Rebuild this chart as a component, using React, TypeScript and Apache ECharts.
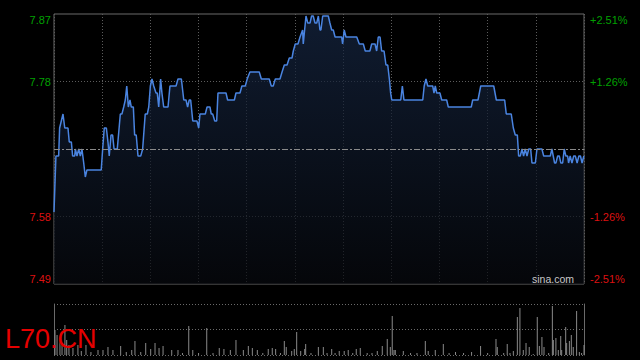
import React, { useEffect, useRef } from 'react';
import * as echarts from 'echarts';

const PREV_CLOSE = 7.68;
const PCT_STEP = 1.2555;
const SESSION_MINUTES = 330;

// price line: minute of session, last price
const minutes = [
  0, 1.2, 2.9, 3.5, 5.6, 6.7, 8.7, 9.5, 10.8, 11.6, 12.9, 13.3, 14.3, 15.4, 16.4, 17.4, 18.5, 19.5, 20.5, 29.4,
  30.3, 31.3, 32.6, 33.6, 34.4, 35.5, 36.5, 37.4, 39.4, 41.3, 42.3, 43.4, 44.4, 45.3, 46.3, 47.3, 48.1, 49.4, 50.2, 51.2,
  52.3, 54.0, 55.2, 56.8, 58.1, 59.0, 60.0, 61.0, 62.1, 63.5, 64.3, 65.2, 66.4, 67.2, 68.3, 71.0, 72.2, 76.0, 77.2, 79.3,
  80.8, 82.2, 83.2, 84.2, 85.1, 86.4, 89.0, 90.1, 90.9, 94.2, 95.3, 97.1, 97.9, 98.8, 100.1, 101.3, 102.1, 107.1, 108.1, 112.3,
  113.3, 115.8, 117.0, 119.1, 120.3, 122.0, 127.8, 129.1, 134.0, 135.3, 136.5, 137.8, 140.7, 142.0, 143.4, 145.1, 146.5, 148.2, 149.0, 150.2,
  151.9, 153.2, 154.8, 155.2, 156.9, 158.0, 159.4, 160.4, 161.4, 162.5, 163.6, 164.6, 165.6, 166.2, 167.3, 170.8, 171.8, 172.9, 173.9, 175.0,
  179.1, 179.7, 180.7, 181.8, 188.5, 190.1, 192.6, 193.8, 196.7, 197.8, 199.9, 200.9, 201.9, 203.0, 204.0, 205.5, 206.7, 207.8, 208.8, 209.6,
  210.3, 215.9, 216.9, 217.9, 229.6, 230.5, 231.6, 232.7, 235.8, 236.6, 237.4, 238.3, 240.3, 241.4, 244.5, 245.5, 259.8, 260.7, 264.0, 265.7,
  273.8, 275.4, 280.6, 281.6, 284.7, 286.0, 287.2, 288.5, 289.3, 290.3, 291.4, 292.4, 293.4, 294.5, 295.6, 296.8, 297.6, 299.7, 300.7, 303.8,
  304.9, 309.0, 310.0, 311.7, 312.5, 313.6, 314.6, 315.6, 316.7, 317.7, 318.7, 319.8, 320.4, 321.4, 322.5, 323.6, 324.6, 325.7, 326.8, 327.8,
  328.8, 329.9,
];
const prices = [
  7.59, 7.67, 7.67, 7.71, 7.73, 7.71, 7.71, 7.69, 7.69, 7.67, 7.67, 7.68, 7.67, 7.68, 7.67, 7.68, 7.66, 7.64, 7.65, 7.65,
  7.68, 7.71, 7.71, 7.69, 7.67, 7.70, 7.70, 7.68, 7.68, 7.73, 7.73, 7.74, 7.75, 7.77, 7.74, 7.75, 7.74, 7.74, 7.70, 7.70,
  7.67, 7.67, 7.68, 7.73, 7.73, 7.74, 7.77, 7.78, 7.77, 7.76, 7.76, 7.74, 7.78, 7.76, 7.74, 7.74, 7.77, 7.77, 7.78, 7.78,
  7.75, 7.75, 7.74, 7.75, 7.75, 7.72, 7.72, 7.71, 7.73, 7.73, 7.74, 7.74, 7.73, 7.73, 7.72, 7.72, 7.76, 7.76, 7.75, 7.75,
  7.76, 7.76, 7.77, 7.77, 7.78, 7.79, 7.79, 7.78, 7.78, 7.77, 7.77, 7.78, 7.78, 7.79, 7.80, 7.80, 7.81, 7.81, 7.82, 7.83,
  7.83, 7.84, 7.85, 7.83, 7.87, 7.86, 7.86, 7.87, 7.87, 7.86, 7.86, 7.87, 7.85, 7.85, 7.87, 7.87, 7.86, 7.85, 7.85, 7.84,
  7.84, 7.83, 7.85, 7.84, 7.84, 7.83, 7.83, 7.82, 7.82, 7.83, 7.83, 7.82, 7.84, 7.84, 7.82, 7.82, 7.80, 7.80, 7.78, 7.76,
  7.75, 7.75, 7.77, 7.75, 7.75, 7.77, 7.78, 7.77, 7.77, 7.76, 7.77, 7.76, 7.76, 7.75, 7.75, 7.74, 7.74, 7.75, 7.75, 7.77,
  7.77, 7.75, 7.75, 7.73, 7.73, 7.71, 7.70, 7.70, 7.67, 7.67, 7.68, 7.67, 7.68, 7.67, 7.68, 7.68, 7.66, 7.66, 7.68, 7.68,
  7.67, 7.67, 7.68, 7.66, 7.66, 7.67, 7.67, 7.66, 7.66, 7.68, 7.67, 7.67, 7.66, 7.67, 7.66, 7.67, 7.67, 7.66, 7.67, 7.67,
  7.66, 7.67,
];

// volume bars: minute of session, volume (thousand shares)
const volMinutes = [
  0.6, 1.9, 3.7, 5, 6.8, 7.9, 9.3, 11.8, 14.9, 17, 19.9, 23, 27.4, 30.5, 33.6, 36.7, 41.5, 45, 48.4, 50.4,
  54, 57.1, 60.2, 62.9, 65.4, 67.9, 73.3, 77.2, 80, 83.9, 86.4, 90, 95.1, 99, 102.9, 105.8, 109.8, 113.3, 117.9, 121,
  123.5, 126.6, 130, 133.4, 135.9, 138, 141, 143.4, 144.6, 148, 149.6, 151.1, 153.6, 156.1, 156.7, 160, 164.6, 167.7, 170, 172.9,
  175, 177.6, 180.7, 183.2, 186, 188.2, 190.7, 195, 198, 201.3, 204.4, 207.5, 209.4, 210.6, 211.7, 212.5, 217.5, 222, 226, 231.2,
  233, 237.4, 242.4, 246, 250, 255, 260, 265.6, 270, 275.2, 276, 280, 282.2, 283.9, 286, 288.5, 290.1, 292.2, 293.9, 295.9,
  298.4, 300.9, 302.2, 303.8, 305.1, 308, 310.3, 310.9, 312.5, 314, 315.5, 316.1, 318.6, 319.2, 320.9, 322.1, 323.3, 325.4, 327.1, 328.5,
  330,
];
const volumes = [
  250, 200, 180, 120, 300, 150, 100, 70, 100, 40, 100, 30, 50, 50, 80, 50, 90, 30, 50, 140,
  30, 120, 60, 120, 70, 90, 50, 50, 20, 290, 50, 20, 270, 20, 70, 60, 50, 150, 50, 90,
  70, 50, 20, 60, 70, 60, 20, 140, 80, 40, 60, 230, 40, 60, 110, 20, 80, 80, 20, 60,
  20, 40, 40, 50, 20, 60, 70, 20, 20, 40, 90, 160, 80, 390, 50, 50, 40, 20, 20, 140,
  40, 50, 110, 20, 30, 20, 30, 90, 20, 160, 80, 20, 110, 20, 40, 380, 470, 50, 120, 80,
  10, 380, 90, 180, 80, 20, 490, 150, 170, 50, 190, 50, 280, 120, 140, 200, 80, 440, 30, 20,
  100,
];
const VOL_MAX = 510;

const UP = '#00a000';
const DOWN = '#dd1111';
const FONT = '"Liberation Sans", Arial, sans-serif';

export default function App() {
  const ref = useRef<HTMLDivElement>(null);
  useEffect(() => {
    const chart = echarts.init(ref.current!, null, { renderer: 'svg' });
    const pct = (p: number) => (p / PREV_CLOSE - 1) * 100;
    const lineData = minutes.map((m, i) => [m, pct(prices[i])]);
    const volData = volMinutes.map((m, i) => [m, volumes[i]]);
    const isZero = (v: number) => Math.abs(v) < 1e-9;
    const labelColor = (v: any) => (Number(v) > 0 ? UP : DOWN);

    const option: any = {
      animation: false,
      backgroundColor: '#000',
      grid: [
        { left: 54, top: 14, width: 530, height: 270, show: true, borderColor: '#6a6a6a', borderWidth: 1, backgroundColor: 'transparent' },
        { left: 54, top: 304, width: 530, height: 51, show: false },
      ],
      xAxis: [
        {
          type: 'value', gridIndex: 0, min: 0, max: SESSION_MINUTES, interval: 30,
          axisLine: { show: false }, axisTick: { show: false }, axisLabel: { show: false },
          splitLine: { show: true, lineStyle: { color: '#5c5c5c', type: [1, 2], width: 1 } },
        },
        {
          type: 'value', gridIndex: 1, min: 0, max: SESSION_MINUTES, interval: 30,
          axisLine: { show: false }, axisTick: { show: false }, axisLabel: { show: false },
          splitLine: { show: false },
        },
      ],
      yAxis: [
        {
          type: 'value', gridIndex: 0, position: 'left',
          min: -2 * PCT_STEP, max: 2 * PCT_STEP, interval: PCT_STEP,
          axisLine: { show: false }, axisTick: { show: false },
          axisLabel: {
            margin: 3, fontSize: 11, fontFamily: FONT,
            color: labelColor,
            verticalAlignMinLabel: 'bottom', verticalAlignMaxLabel: 'top',
            formatter: (v: number) => (isZero(v) ? '' : (PREV_CLOSE * (1 + v / 100)).toFixed(2)),
          },
          splitLine: {
            show: true,
            lineStyle: {
              color: ['rgba(0,0,0,0)', '#5c5c5c', 'rgba(0,0,0,0)', '#5c5c5c', 'rgba(0,0,0,0)'],
              type: [1, 2], width: 1,
            },
          },
        },
        {
          type: 'value', gridIndex: 0, position: 'right',
          min: -2 * PCT_STEP, max: 2 * PCT_STEP, interval: PCT_STEP,
          axisLine: { show: false }, axisTick: { show: false }, splitLine: { show: false },
          axisLabel: {
            margin: 6, fontSize: 11, fontFamily: FONT,
            color: labelColor,
            verticalAlignMinLabel: 'bottom', verticalAlignMaxLabel: 'top',
            formatter: (v: number) => (isZero(v) ? '' : (v > 0 ? '+' : '') + v.toFixed(2) + '%'),
          },
        },
        {
          type: 'value', gridIndex: 1, position: 'left', min: 0, max: VOL_MAX, interval: VOL_MAX / 2,
          axisLine: { show: true, lineStyle: { color: '#6a6a6a', width: 1 } },
          axisTick: { show: false }, axisLabel: { show: false },
          splitLine: { show: true, lineStyle: { color: '#6a6a6a', type: [1, 2], width: 1 } },
        },
        {
          type: 'value', gridIndex: 1, position: 'right', min: 0, max: VOL_MAX, interval: VOL_MAX / 2,
          axisLine: { show: true, lineStyle: { color: '#6a6a6a', width: 1 } },
          axisTick: { show: false }, axisLabel: { show: false }, splitLine: { show: false },
        },
      ],
      series: [
        {
          type: 'line', xAxisIndex: 0, yAxisIndex: 0, data: lineData,
          showSymbol: false, symbol: 'none',
          lineStyle: { color: '#4a84e0', width: 1.5 },
          areaStyle: {
            origin: 'start',
            color: new echarts.graphic.LinearGradient(0, 0, 0, 1, [
              { offset: 0, color: '#162744' },
              { offset: 1, color: '#07090e' },
            ]),
          },
          markLine: {
            silent: true, symbol: 'none', animation: false,
            label: { show: false },
            lineStyle: { color: '#8a8a8a', type: [6, 2, 2, 2], width: 1 },
            data: [{ yAxis: 0 }],
          },
          z: 3,
        },
        {
          type: 'bar', xAxisIndex: 1, yAxisIndex: 2, data: volData,
          barWidth: 1, itemStyle: { color: '#8a8a8a' }, z: 2,
        },
      ],
      graphic: [
        {
          type: 'text', x: 532, y: 279, z: 10,
          style: { text: 'sina.com', fontSize: 10.5, fontFamily: FONT, fill: '#c8c8c8', verticalAlign: 'middle', align: 'left' },
        },
        {
          type: 'text', x: 5, y: 339, z: 10,
          style: { text: 'L70.CN', fontSize: 27, fontFamily: FONT, fill: '#e60000', verticalAlign: 'middle', align: 'left' },
        },
      ],
    };
    chart.setOption(option);
    return () => chart.dispose();
  }, []);
  return (
    <div
      ref={ref}
      style={{ position: 'fixed', left: 0, top: 0, width: 640, height: 360, background: '#000' }}
    />
  );
}
